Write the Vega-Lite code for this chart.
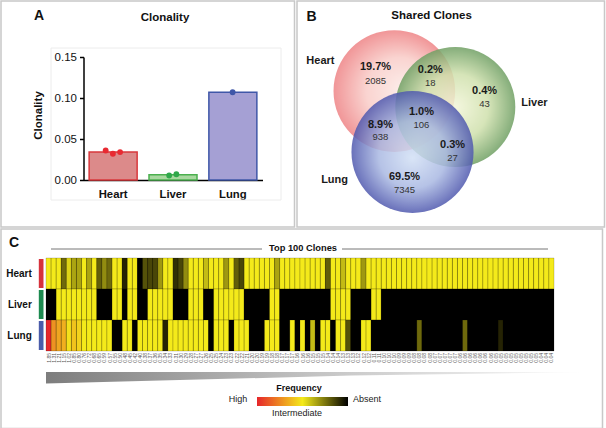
{"$schema":"https://vega.github.io/schema/vega-lite/v6.json","padding":0,"spacing":0,"background":"white",
"config":{"font":"Liberation Sans","view":{"stroke":"#c8c8c8","strokeWidth":1.5},"concat":{"spacing":0}},
"datasets":{
"clonality":[{"tissue":"Heart","value":0.034},{"tissue":"Liver","value":0.0065},{"tissue":"Lung","value":0.107}],
"samples":[{"tissue":"Heart","sample":1,"value":0.036},{"tissue":"Heart","sample":3,"value":0.032},{"tissue":"Heart","sample":5,"value":0.034},{"tissue":"Liver","sample":2,"value":0.0055},{"tissue":"Liver","sample":4,"value":0.007},{"tissue":"Lung","sample":3,"value":0.107}],
"venn":[{"a":26.0,"b":28.9,"pct":"19.7%","n":"2085","b2":35.1},{"a":43.8,"b":30.3,"pct":"0.2%","n":"18","b2":36.0},{"a":61.4,"b":39.5,"pct":"0.4%","n":"43","b2":45.2},{"a":40.9,"b":48.7,"pct":"1.0%","n":"106","b2":54.4},{"a":27.6,"b":54.4,"pct":"8.9%","n":"938","b2":59.6},{"a":51.0,"b":63.2,"pct":"0.3%","n":"27","b2":68.9},{"a":35.4,"b":77.2,"pct":"69.5%","n":"7345","b2":82.9}],
"clones":[{"clone":1,"freq":1.85},{"clone":2,"freq":1.31},{"clone":3,"freq":1.21},{"clone":4,"freq":1.15},{"clone":5,"freq":1.02},{"clone":6,"freq":0.85},{"clone":7,"freq":0.80},{"clone":8,"freq":0.76},{"clone":9,"freq":0.72},{"clone":10,"freq":0.68},{"clone":11,"freq":0.65},{"clone":12,"freq":0.59},{"clone":13,"freq":0.57},{"clone":14,"freq":0.55},{"clone":15,"freq":0.50},{"clone":16,"freq":0.48},{"clone":17,"freq":0.45},{"clone":18,"freq":0.42},{"clone":19,"freq":0.40},{"clone":20,"freq":0.38},{"clone":21,"freq":0.37},{"clone":22,"freq":0.36},{"clone":23,"freq":0.35},{"clone":24,"freq":0.34},{"clone":25,"freq":0.33},{"clone":26,"freq":0.31},{"clone":27,"freq":0.30},{"clone":28,"freq":0.29},{"clone":29,"freq":0.28},{"clone":30,"freq":0.27},{"clone":31,"freq":0.27},{"clone":32,"freq":0.26},{"clone":33,"freq":0.25},{"clone":34,"freq":0.25},{"clone":35,"freq":0.24},{"clone":36,"freq":0.23},{"clone":37,"freq":0.23},{"clone":38,"freq":0.22},{"clone":39,"freq":0.22},{"clone":40,"freq":0.21},{"clone":41,"freq":0.20},{"clone":42,"freq":0.20},{"clone":43,"freq":0.19},{"clone":44,"freq":0.19},{"clone":45,"freq":0.18},{"clone":46,"freq":0.18},{"clone":47,"freq":0.17},{"clone":48,"freq":0.17},{"clone":49,"freq":0.17},{"clone":50,"freq":0.16},{"clone":51,"freq":0.16},{"clone":52,"freq":0.16},{"clone":53,"freq":0.15},{"clone":54,"freq":0.15},{"clone":55,"freq":0.15},{"clone":56,"freq":0.14},{"clone":57,"freq":0.14},{"clone":58,"freq":0.14},{"clone":59,"freq":0.13},{"clone":60,"freq":0.13},{"clone":61,"freq":0.13},{"clone":62,"freq":0.12},{"clone":63,"freq":0.12},{"clone":64,"freq":0.12},{"clone":65,"freq":0.11},{"clone":66,"freq":0.11},{"clone":67,"freq":0.10},{"clone":68,"freq":0.10},{"clone":69,"freq":0.10},{"clone":70,"freq":0.09},{"clone":71,"freq":0.09},{"clone":72,"freq":0.09},{"clone":73,"freq":0.08},{"clone":74,"freq":0.08},{"clone":75,"freq":0.08},{"clone":76,"freq":0.08},{"clone":77,"freq":0.07},{"clone":78,"freq":0.07},{"clone":79,"freq":0.07},{"clone":80,"freq":0.07},{"clone":81,"freq":0.07},{"clone":82,"freq":0.06},{"clone":83,"freq":0.06},{"clone":84,"freq":0.06},{"clone":85,"freq":0.06},{"clone":86,"freq":0.06},{"clone":87,"freq":0.06},{"clone":88,"freq":0.06},{"clone":89,"freq":0.05},{"clone":90,"freq":0.05},{"clone":91,"freq":0.05},{"clone":92,"freq":0.05},{"clone":93,"freq":0.05},{"clone":94,"freq":0.05},{"clone":95,"freq":0.05},{"clone":96,"freq":0.05},{"clone":97,"freq":0.05},{"clone":98,"freq":0.04},{"clone":99,"freq":0.04},{"clone":100,"freq":0.04}],
"cells":[
{"clone":1,"tissue":"Heart","level":1},{"clone":2,"tissue":"Heart","level":1},{"clone":3,"tissue":"Heart","level":1},{"clone":4,"tissue":"Heart","level":0.45},{"clone":5,"tissue":"Heart","level":0.9},{"clone":6,"tissue":"Heart","level":0.7},{"clone":7,"tissue":"Heart","level":0.7},{"clone":8,"tissue":"Heart","level":1},{"clone":9,"tissue":"Heart","level":0.7},{"clone":10,"tissue":"Heart","level":1},{"clone":11,"tissue":"Heart","level":0.4},{"clone":12,"tissue":"Heart","level":0.6},{"clone":13,"tissue":"Heart","level":0.45},{"clone":14,"tissue":"Heart","level":1},{"clone":15,"tissue":"Heart","level":1},{"clone":16,"tissue":"Heart","level":0.15},{"clone":17,"tissue":"Heart","level":1},{"clone":18,"tissue":"Heart","level":1},{"clone":19,"tissue":"Heart","level":0},{"clone":20,"tissue":"Heart","level":0.35},{"clone":21,"tissue":"Heart","level":0.3},{"clone":22,"tissue":"Heart","level":0.3},{"clone":23,"tissue":"Heart","level":0.65},{"clone":24,"tissue":"Heart","level":1},{"clone":25,"tissue":"Heart","level":1},{"clone":26,"tissue":"Heart","level":0.2},{"clone":27,"tissue":"Heart","level":0.3},{"clone":28,"tissue":"Heart","level":0.6},{"clone":29,"tissue":"Heart","level":1},{"clone":30,"tissue":"Heart","level":1},{"clone":31,"tissue":"Heart","level":1},{"clone":32,"tissue":"Heart","level":0.8},{"clone":33,"tissue":"Heart","level":1},{"clone":34,"tissue":"Heart","level":1},{"clone":35,"tissue":"Heart","level":1},{"clone":36,"tissue":"Heart","level":0.65},{"clone":37,"tissue":"Heart","level":1},{"clone":38,"tissue":"Heart","level":0.4},{"clone":39,"tissue":"Heart","level":0.3},{"clone":40,"tissue":"Heart","level":1},{"clone":41,"tissue":"Heart","level":1},{"clone":42,"tissue":"Heart","level":1},{"clone":43,"tissue":"Heart","level":1},{"clone":44,"tissue":"Heart","level":1},{"clone":45,"tissue":"Heart","level":1},{"clone":46,"tissue":"Heart","level":0.7},{"clone":47,"tissue":"Heart","level":1},{"clone":48,"tissue":"Heart","level":1},{"clone":49,"tissue":"Heart","level":1},{"clone":50,"tissue":"Heart","level":1},{"clone":51,"tissue":"Heart","level":1},{"clone":52,"tissue":"Heart","level":1},{"clone":53,"tissue":"Heart","level":1},{"clone":54,"tissue":"Heart","level":1},{"clone":55,"tissue":"Heart","level":1},{"clone":56,"tissue":"Heart","level":0.4},{"clone":57,"tissue":"Heart","level":1},{"clone":58,"tissue":"Heart","level":1},{"clone":59,"tissue":"Heart","level":0.8},{"clone":60,"tissue":"Heart","level":1},{"clone":61,"tissue":"Heart","level":1},{"clone":62,"tissue":"Heart","level":1},{"clone":63,"tissue":"Heart","level":0.65},{"clone":64,"tissue":"Heart","level":1},{"clone":65,"tissue":"Heart","level":1},{"clone":66,"tissue":"Heart","level":1},{"clone":67,"tissue":"Heart","level":1},{"clone":68,"tissue":"Heart","level":1},{"clone":69,"tissue":"Heart","level":1},{"clone":70,"tissue":"Heart","level":1},{"clone":71,"tissue":"Heart","level":1},{"clone":72,"tissue":"Heart","level":1},{"clone":73,"tissue":"Heart","level":1},{"clone":74,"tissue":"Heart","level":1},{"clone":75,"tissue":"Heart","level":1},{"clone":76,"tissue":"Heart","level":1},{"clone":77,"tissue":"Heart","level":1},{"clone":78,"tissue":"Heart","level":1},{"clone":79,"tissue":"Heart","level":1},{"clone":80,"tissue":"Heart","level":1},{"clone":81,"tissue":"Heart","level":1},{"clone":82,"tissue":"Heart","level":1},{"clone":83,"tissue":"Heart","level":1},{"clone":84,"tissue":"Heart","level":1},{"clone":85,"tissue":"Heart","level":1},{"clone":86,"tissue":"Heart","level":1},{"clone":87,"tissue":"Heart","level":1},{"clone":88,"tissue":"Heart","level":1},{"clone":89,"tissue":"Heart","level":1},{"clone":90,"tissue":"Heart","level":1},{"clone":91,"tissue":"Heart","level":1},{"clone":92,"tissue":"Heart","level":1},{"clone":93,"tissue":"Heart","level":1},{"clone":94,"tissue":"Heart","level":1},{"clone":95,"tissue":"Heart","level":1},{"clone":96,"tissue":"Heart","level":1},{"clone":97,"tissue":"Heart","level":1},{"clone":98,"tissue":"Heart","level":1},{"clone":99,"tissue":"Heart","level":1},{"clone":100,"tissue":"Heart","level":1},
{"clone":1,"tissue":"Liver","level":0},{"clone":2,"tissue":"Liver","level":0},{"clone":3,"tissue":"Liver","level":1},{"clone":4,"tissue":"Liver","level":1},{"clone":5,"tissue":"Liver","level":1},{"clone":6,"tissue":"Liver","level":1},{"clone":7,"tissue":"Liver","level":1},{"clone":8,"tissue":"Liver","level":1},{"clone":9,"tissue":"Liver","level":1},{"clone":10,"tissue":"Liver","level":1},{"clone":11,"tissue":"Liver","level":0},{"clone":12,"tissue":"Liver","level":0},{"clone":13,"tissue":"Liver","level":0},{"clone":14,"tissue":"Liver","level":1},{"clone":15,"tissue":"Liver","level":1},{"clone":16,"tissue":"Liver","level":0},{"clone":17,"tissue":"Liver","level":1},{"clone":18,"tissue":"Liver","level":1},{"clone":19,"tissue":"Liver","level":0},{"clone":20,"tissue":"Liver","level":0},{"clone":21,"tissue":"Liver","level":1},{"clone":22,"tissue":"Liver","level":1},{"clone":23,"tissue":"Liver","level":1},{"clone":24,"tissue":"Liver","level":1},{"clone":25,"tissue":"Liver","level":1},{"clone":26,"tissue":"Liver","level":0},{"clone":27,"tissue":"Liver","level":0},{"clone":28,"tissue":"Liver","level":0},{"clone":29,"tissue":"Liver","level":1},{"clone":30,"tissue":"Liver","level":1},{"clone":31,"tissue":"Liver","level":1},{"clone":32,"tissue":"Liver","level":0},{"clone":33,"tissue":"Liver","level":0},{"clone":34,"tissue":"Liver","level":1},{"clone":35,"tissue":"Liver","level":1},{"clone":36,"tissue":"Liver","level":1},{"clone":37,"tissue":"Liver","level":1},{"clone":38,"tissue":"Liver","level":1},{"clone":39,"tissue":"Liver","level":1},{"clone":40,"tissue":"Liver","level":0},{"clone":41,"tissue":"Liver","level":0},{"clone":42,"tissue":"Liver","level":0},{"clone":43,"tissue":"Liver","level":0},{"clone":44,"tissue":"Liver","level":0},{"clone":45,"tissue":"Liver","level":1},{"clone":46,"tissue":"Liver","level":1},{"clone":47,"tissue":"Liver","level":0},{"clone":48,"tissue":"Liver","level":0},{"clone":49,"tissue":"Liver","level":0},{"clone":50,"tissue":"Liver","level":0},{"clone":51,"tissue":"Liver","level":0},{"clone":52,"tissue":"Liver","level":0},{"clone":53,"tissue":"Liver","level":0},{"clone":54,"tissue":"Liver","level":0},{"clone":55,"tissue":"Liver","level":0},{"clone":56,"tissue":"Liver","level":0},{"clone":57,"tissue":"Liver","level":1},{"clone":58,"tissue":"Liver","level":1},{"clone":59,"tissue":"Liver","level":1},{"clone":60,"tissue":"Liver","level":1},{"clone":61,"tissue":"Liver","level":0},{"clone":62,"tissue":"Liver","level":0},{"clone":63,"tissue":"Liver","level":0},{"clone":64,"tissue":"Liver","level":0},{"clone":65,"tissue":"Liver","level":1},{"clone":66,"tissue":"Liver","level":1},{"clone":67,"tissue":"Liver","level":0},{"clone":68,"tissue":"Liver","level":0},{"clone":69,"tissue":"Liver","level":0},{"clone":70,"tissue":"Liver","level":0},{"clone":71,"tissue":"Liver","level":0},{"clone":72,"tissue":"Liver","level":0},{"clone":73,"tissue":"Liver","level":0},{"clone":74,"tissue":"Liver","level":0},{"clone":75,"tissue":"Liver","level":0},{"clone":76,"tissue":"Liver","level":0},{"clone":77,"tissue":"Liver","level":0},{"clone":78,"tissue":"Liver","level":0},{"clone":79,"tissue":"Liver","level":0},{"clone":80,"tissue":"Liver","level":0},{"clone":81,"tissue":"Liver","level":0},{"clone":82,"tissue":"Liver","level":0},{"clone":83,"tissue":"Liver","level":0},{"clone":84,"tissue":"Liver","level":0},{"clone":85,"tissue":"Liver","level":0},{"clone":86,"tissue":"Liver","level":0},{"clone":87,"tissue":"Liver","level":0},{"clone":88,"tissue":"Liver","level":0},{"clone":89,"tissue":"Liver","level":0},{"clone":90,"tissue":"Liver","level":0},{"clone":91,"tissue":"Liver","level":0},{"clone":92,"tissue":"Liver","level":0},{"clone":93,"tissue":"Liver","level":0},{"clone":94,"tissue":"Liver","level":0},{"clone":95,"tissue":"Liver","level":0},{"clone":96,"tissue":"Liver","level":0},{"clone":97,"tissue":"Liver","level":0},{"clone":98,"tissue":"Liver","level":0},{"clone":99,"tissue":"Liver","level":0},{"clone":100,"tissue":"Liver","level":0},
{"clone":1,"tissue":"Lung","level":2},{"clone":2,"tissue":"Lung","level":1.45},{"clone":3,"tissue":"Lung","level":1.35},{"clone":4,"tissue":"Lung","level":1.3},{"clone":5,"tissue":"Lung","level":1.05},{"clone":6,"tissue":"Lung","level":1.2},{"clone":7,"tissue":"Lung","level":1.12},{"clone":8,"tissue":"Lung","level":1},{"clone":9,"tissue":"Lung","level":1},{"clone":10,"tissue":"Lung","level":1},{"clone":11,"tissue":"Lung","level":1},{"clone":12,"tissue":"Lung","level":1},{"clone":13,"tissue":"Lung","level":1},{"clone":14,"tissue":"Lung","level":0},{"clone":15,"tissue":"Lung","level":0},{"clone":16,"tissue":"Lung","level":1},{"clone":17,"tissue":"Lung","level":1},{"clone":18,"tissue":"Lung","level":0},{"clone":19,"tissue":"Lung","level":1},{"clone":20,"tissue":"Lung","level":1},{"clone":21,"tissue":"Lung","level":1},{"clone":22,"tissue":"Lung","level":1},{"clone":23,"tissue":"Lung","level":1},{"clone":24,"tissue":"Lung","level":0.15},{"clone":25,"tissue":"Lung","level":1},{"clone":26,"tissue":"Lung","level":1},{"clone":27,"tissue":"Lung","level":1},{"clone":28,"tissue":"Lung","level":1},{"clone":29,"tissue":"Lung","level":1},{"clone":30,"tissue":"Lung","level":1},{"clone":31,"tissue":"Lung","level":1},{"clone":32,"tissue":"Lung","level":1},{"clone":33,"tissue":"Lung","level":0},{"clone":34,"tissue":"Lung","level":1},{"clone":35,"tissue":"Lung","level":1},{"clone":36,"tissue":"Lung","level":1},{"clone":37,"tissue":"Lung","level":0},{"clone":38,"tissue":"Lung","level":1},{"clone":39,"tissue":"Lung","level":1},{"clone":40,"tissue":"Lung","level":1},{"clone":41,"tissue":"Lung","level":0},{"clone":42,"tissue":"Lung","level":0},{"clone":43,"tissue":"Lung","level":0},{"clone":44,"tissue":"Lung","level":1},{"clone":45,"tissue":"Lung","level":1},{"clone":46,"tissue":"Lung","level":1},{"clone":47,"tissue":"Lung","level":0},{"clone":48,"tissue":"Lung","level":0},{"clone":49,"tissue":"Lung","level":1},{"clone":50,"tissue":"Lung","level":0},{"clone":51,"tissue":"Lung","level":1},{"clone":52,"tissue":"Lung","level":0},{"clone":53,"tissue":"Lung","level":0.8},{"clone":54,"tissue":"Lung","level":0},{"clone":55,"tissue":"Lung","level":1},{"clone":56,"tissue":"Lung","level":1},{"clone":57,"tissue":"Lung","level":0},{"clone":58,"tissue":"Lung","level":1},{"clone":59,"tissue":"Lung","level":1},{"clone":60,"tissue":"Lung","level":0.35},{"clone":61,"tissue":"Lung","level":0},{"clone":62,"tissue":"Lung","level":0},{"clone":63,"tissue":"Lung","level":1},{"clone":64,"tissue":"Lung","level":1},{"clone":65,"tissue":"Lung","level":0},{"clone":66,"tissue":"Lung","level":0},{"clone":67,"tissue":"Lung","level":0},{"clone":68,"tissue":"Lung","level":0},{"clone":69,"tissue":"Lung","level":0},{"clone":70,"tissue":"Lung","level":0},{"clone":71,"tissue":"Lung","level":0},{"clone":72,"tissue":"Lung","level":0},{"clone":73,"tissue":"Lung","level":0},{"clone":74,"tissue":"Lung","level":0.45},{"clone":75,"tissue":"Lung","level":0},{"clone":76,"tissue":"Lung","level":0},{"clone":77,"tissue":"Lung","level":0},{"clone":78,"tissue":"Lung","level":0},{"clone":79,"tissue":"Lung","level":0},{"clone":80,"tissue":"Lung","level":0},{"clone":81,"tissue":"Lung","level":0},{"clone":82,"tissue":"Lung","level":0},{"clone":83,"tissue":"Lung","level":0.45},{"clone":84,"tissue":"Lung","level":0},{"clone":85,"tissue":"Lung","level":0},{"clone":86,"tissue":"Lung","level":0},{"clone":87,"tissue":"Lung","level":0},{"clone":88,"tissue":"Lung","level":0},{"clone":89,"tissue":"Lung","level":0},{"clone":90,"tissue":"Lung","level":0.15},{"clone":91,"tissue":"Lung","level":0},{"clone":92,"tissue":"Lung","level":0},{"clone":93,"tissue":"Lung","level":0},{"clone":94,"tissue":"Lung","level":0},{"clone":95,"tissue":"Lung","level":0},{"clone":96,"tissue":"Lung","level":0},{"clone":97,"tissue":"Lung","level":0},{"clone":98,"tissue":"Lung","level":0},{"clone":99,"tissue":"Lung","level":0},{"clone":100,"tissue":"Lung","level":0}
]},
"vconcat":[
{"hconcat":[
{"width":293.5,"height":226,"layer":[
{"data":{"values":[{"k":1}]},"mark":{"type":"rect","x":50,"x2":280,"y":47,"y2":199,"fill":null,"stroke":"#ececec","strokeWidth":1},"encoding":{}},
{"data":{"name":"clonality"},"mark":{"type":"bar","strokeWidth":1.5,"width":48},"encoding":{
"x":{"field":"tissue","type":"nominal","scale":{"domain":["Heart","Liver","Lung"],"range":[82.5,261.5],"paddingInner":0.19,"paddingOuter":0.09},"axis":{"title":null,"labelAngle":0,"labelFontSize":11.3,"labelFontWeight":"bold","labelColor":"#111","orient":"bottom","offset":-47,"ticks":false,"labelPadding":8,"domainColor":"#000","domainWidth":1.5}},
"y":{"field":"value","type":"quantitative","scale":{"domain":[0,0.15],"range":[179,56],"nice":false},"axis":{"title":"Clonality","titleFontSize":11.5,"titleFontWeight":"bold","titleColor":"#111","titlePadding":11,"titleY":114,"values":[0,0.05,0.1,0.15],"format":".2f","labelFontSize":11.5,"labelColor":"#111","grid":false,"offset":-82.5,"domainColor":"#000","domainWidth":1.5,"tickColor":"#000","tickWidth":1.5,"tickSize":4,"labelPadding":3}},
"fill":{"field":"tissue","type":"nominal","scale":{"domain":["Heart","Liver","Lung"],"range":["#dc8a8a","#a9d8a0","#a5a0d4"]},"legend":null},
"stroke":{"field":"tissue","type":"nominal","scale":{"domain":["Heart","Liver","Lung"],"range":["#d8383c","#4bb04f","#3f57a8"]},"legend":null}}},
{"data":{"name":"samples"},"mark":{"type":"circle","size":34,"opacity":1},"encoding":{
"x":{"field":"tissue","type":"nominal"},
"xOffset":{"field":"sample","type":"ordinal","scale":{"type":"point","domain":[1,2,3,4,5],"range":[15,33]}},
"y":{"field":"value","type":"quantitative"},
"color":{"field":"tissue","type":"nominal","scale":{"domain":["Heart","Liver","Lung"],"range":["#e82a32","#30a84a","#3f57a8"]},"legend":null}}},
{"data":{"values":[{"label":"A"}]},"mark":{"type":"text","x":38,"y":15,"fontSize":14,"fontWeight":"bold","color":"#111"},"encoding":{"text":{"field":"label"}}},
{"data":{"values":[{"label":"Clonality"}]},"mark":{"type":"text","x":164,"y":17,"fontSize":11.5,"fontWeight":"bold","color":"#111"},"encoding":{"text":{"field":"label"}}}
]},
{"width":307.5,"height":226,"data":{"name":"venn"},
"encoding":{"x":{"field":"a","type":"quantitative","scale":{"domain":[0.5,100.5],"range":[0,308]},"axis":null},"y":{"field":"b","type":"quantitative","scale":{"domain":[100,0],"range":[228,0]},"axis":null}},
"layer":[
{"data":{"values":[{"set":"Heart","a":32.1,"b":39.5}]},"mark":{"type":"circle","size":14800,"opacity":0.9,"fill":{"gradient":"radial","x1":0.6,"y1":0.5,"r1":0,"x2":0.5,"y2":0.5,"r2":0.5,"stops":[{"offset":0,"color":"#fbeeea"},{"offset":0.55,"color":"#f9cfcb"},{"offset":1,"color":"#ef8a8c"}]}}},
{"data":{"values":[{"set":"Liver","a":51.9,"b":46.5}]},"mark":{"type":"circle","size":14400,"opacity":0.85,"fill":{"gradient":"radial","x1":0.5,"y1":0.5,"r1":0,"x2":0.5,"y2":0.5,"r2":0.5,"stops":[{"offset":0,"color":"#f2f5d8"},{"offset":0.55,"color":"#cfe0ac"},{"offset":1,"color":"#6f9f63"}]}}},
{"data":{"values":[{"set":"Lung","a":38.0,"b":66.2}]},"mark":{"type":"circle","size":14900,"opacity":0.85,"fill":{"gradient":"radial","x1":0.5,"y1":0.55,"r1":0,"x2":0.5,"y2":0.5,"r2":0.5,"stops":[{"offset":0,"color":"#d2e0f5"},{"offset":0.55,"color":"#a9b8e2"},{"offset":1,"color":"#4f58ae"}]}}},
{"mark":{"type":"text","fontSize":11,"fontWeight":"bold","color":"#1a1a1a"},"encoding":{"text":{"field":"pct"}}},
{"mark":{"type":"text","fontSize":9.5,"color":"#333"},"encoding":{"y":{"field":"b2","type":"quantitative"},"text":{"field":"n"}}},
{"data":{"values":[{"set":"Heart","a":8.1,"b":26.3},{"set":"Liver","a":77.6,"b":44.7},{"set":"Lung","a":12.7,"b":78.5}]},"mark":{"type":"text","fontSize":11,"fontWeight":"bold","color":"#1a1a1a"},"encoding":{"text":{"field":"set"}}},
{"data":{"values":[{"label":"B","a":5.2,"b":7.2}]},"mark":{"type":"text","fontSize":14,"fontWeight":"bold","color":"#111"},"encoding":{"text":{"field":"label"}}},
{"data":{"values":[{"label":"Shared Clones","a":44.2,"b":6.6}]},"mark":{"type":"text","fontSize":11.5,"fontWeight":"bold","color":"#111"},"encoding":{"text":{"field":"label"}}}
]}
]},
{"width":601.5,"height":199.5,"resolve":{"scale":{"x":"independent","y":"independent"}},"layer":[
{"data":{"values":[{"k":4}]},"mark":{"type":"rect","x":45,"x2":553,"y":29,"y2":122,"fill":"#000000"},"encoding":{}},
{"data":{"name":"cells"},"mark":{"type":"rect","stroke":"#000000","strokeOpacity":0.35,"strokeWidth":0.5,"width":5.08,"height":31},"encoding":{
"x":{"field":"clone","type":"ordinal","scale":{"range":[45,553],"paddingInner":0,"paddingOuter":0},"axis":null},
"y":{"field":"tissue","type":"nominal","scale":{"domain":["Heart","Liver","Lung"],"range":[29,122],"paddingInner":0,"paddingOuter":0},"axis":{"title":null,"offset":-42,"domain":false,"tickSize":4.7,"tickWidth":29,"tickColor":{"expr":"datum.value === 'Heart' ? '#d6323c' : datum.value === 'Liver' ? '#1c8a50' : '#4a5caa'"},"labelFontSize":10,"labelFontWeight":"bold","labelColor":"#111","labelPadding":7}},
"color":{"field":"level","type":"quantitative","scale":{"domain":[0,1,2],"range":["#000000","#f4ea1a","#e6262b"],"interpolate":"rgb"},"legend":null}}},
{"data":{"name":"clones"},"mark":{"type":"text","angle":270,"align":"right","baseline":"middle","fontSize":5,"color":"#555","y":124},"encoding":{
"x":{"field":"clone","type":"ordinal","scale":{"range":[45,553],"paddingInner":0,"paddingOuter":0},"axis":null},
"text":{"field":"freq","type":"quantitative","format":".2f"}}},
{"data":{"values":[{"rank":0,"spread":11.5},{"rank":30,"spread":7.6},{"rank":60,"spread":3.6},{"rank":107,"spread":0}]},"mark":{"type":"area","color":{"gradient":"linear","x1":0,"y1":0,"x2":1,"y2":0,"stops":[{"offset":0,"color":"#7d7d7d"},{"offset":0.5,"color":"#c4c4c4"},{"offset":1,"color":"#ffffff"}]}},"encoding":{
"x":{"field":"rank","type":"quantitative","scale":{"domain":[0,107],"range":[45,589]},"axis":null},
"y":{"field":"spread","type":"quantitative","scale":{"domain":[0,12],"range":[143,155]},"axis":null}}},
{"data":{"values":[{"k":1}]},"mark":{"type":"rule","color":"#777","strokeWidth":1},"encoding":{"x":{"value":50},"x2":{"value":261},"y":{"value":20}}},
{"data":{"values":[{"k":2}]},"mark":{"type":"rule","color":"#777","strokeWidth":1},"encoding":{"x":{"value":341},"x2":{"value":547},"y":{"value":20}}},
{"data":{"values":[{"label":"Top 100 Clones"}]},"mark":{"type":"text","x":302,"y":19,"fontSize":9.3,"fontWeight":"bold","color":"#111"},"encoding":{"text":{"field":"label"}}},
{"data":{"values":[{"label":"C"}]},"mark":{"type":"text","x":13,"y":14,"fontSize":14,"fontWeight":"bold","color":"#111"},"encoding":{"text":{"field":"label"}}},
{"data":{"values":[{"label":"Frequency"}]},"mark":{"type":"text","x":298,"y":159,"fontSize":9,"fontWeight":"bold","color":"#111"},"encoding":{"text":{"field":"label"}}},
{"data":{"values":[{"label":"High"}]},"mark":{"type":"text","x":237,"y":170,"fontSize":9,"color":"#222"},"encoding":{"text":{"field":"label"}}},
{"data":{"values":[{"label":"Absent"}]},"mark":{"type":"text","x":366,"y":170,"fontSize":9,"color":"#222"},"encoding":{"text":{"field":"label"}}},
{"data":{"values":[{"label":"Intermediate"}]},"mark":{"type":"text","x":296,"y":184,"fontSize":9,"color":"#222"},"encoding":{"text":{"field":"label"}}},
{"data":{"values":[{"k":3}]},"mark":{"type":"rect","x":256,"x2":347,"y":168,"y2":177,"fill":{"gradient":"linear","x1":0,"y1":0,"x2":1,"y2":0,"stops":[{"offset":0,"color":"#e6262b"},{"offset":0.5,"color":"#f4ea1a"},{"offset":1,"color":"#000000"}]}},"encoding":{}}
]}
]}
